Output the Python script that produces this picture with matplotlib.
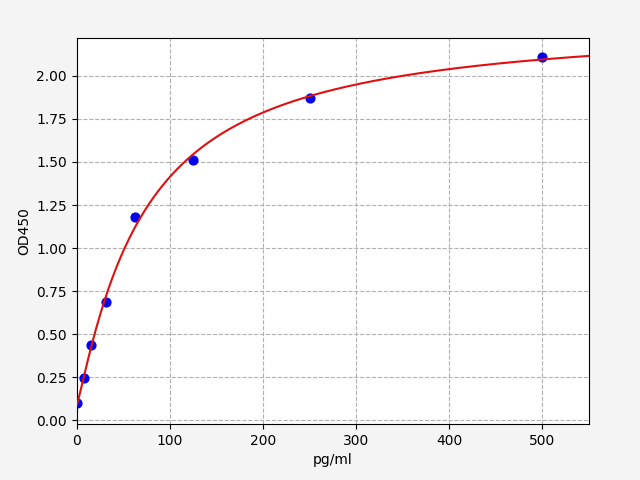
import numpy as np
import matplotlib.pyplot as plt

# standard points
conc = np.array([0, 7.8, 15.6, 31.25, 62.5, 125, 250, 500])
od450 = np.array([0.099, 0.244, 0.436, 0.69, 1.18, 1.51, 1.87, 2.11])


def four_pl(x, a, b, c, d):
    return d + (a - d) / (1 + (x / c) ** b)


def fit_4pl(x, y, p0, n_iter=500):
    # small Levenberg-Marquardt, enough for a 4PL standard curve
    p = np.array(p0, dtype=float)
    lam = 1e-2
    for _ in range(n_iter):
        r = y - four_pl(x, *p)
        J = np.zeros((len(x), len(p)))
        for k in range(len(p)):
            dp = np.zeros_like(p)
            dp[k] = 1e-6 * max(abs(p[k]), 1.0)
            J[:, k] = (four_pl(x, *(p + dp)) - four_pl(x, *p)) / dp[k]
        A = J.T @ J
        step = np.linalg.solve(A + lam * np.diag(np.diag(A)), J.T @ r)
        p_new = p + step
        if p_new[2] > 0 and np.sum((y - four_pl(x, *p_new)) ** 2) < np.sum(r ** 2):
            p = p_new
            lam *= 0.5
        else:
            lam *= 4
    return p


params = fit_4pl(conc, od450, [0.1, 1.0, 100.0, 2.5])
x_fit = np.linspace(0, 550, 500)
y_fit = four_pl(x_fit, *params)

fig, ax = plt.subplots(figsize=(6.4, 4.8), dpi=100)
fig.patch.set_facecolor("#f4f4f4")
fig.subplots_adjust(left=0.12, right=0.92, top=0.921, bottom=0.117)

ax.scatter(conc, od450, color="#0000ee", s=40, zorder=2)
ax.plot(x_fit, y_fit, color="#e01010", linewidth=1.5, zorder=3)

ax.set_xlim(0, 550)
ax.set_ylim(-0.02, 2.22)
ax.set_yticks(np.arange(0, 2.01, 0.25))
ax.yaxis.set_major_formatter(plt.FormatStrFormatter("%.2f"))
ax.set_xlabel("pg/ml")
ax.set_ylabel("OD450")
ax.grid(True, linestyle="--", color="#b0b0b0")
ax.set_axisbelow(True)

plt.savefig("out.png", facecolor=fig.get_facecolor())
